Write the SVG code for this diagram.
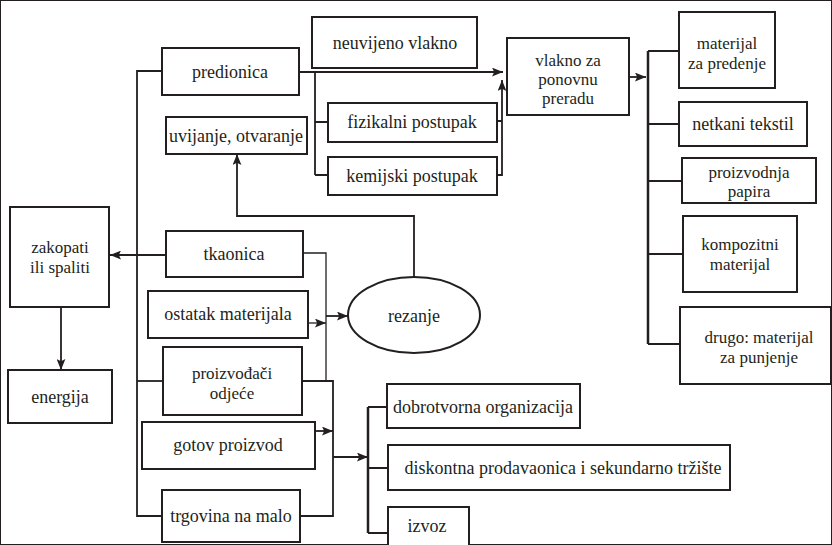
<svg xmlns="http://www.w3.org/2000/svg" width="832" height="545" viewBox="0 0 832 545" font-family="'Liberation Serif', 'DejaVu Serif', serif">
<defs>
<marker id="ah" viewBox="0 0 10 8" refX="10" refY="4" markerWidth="11" markerHeight="9" markerUnits="userSpaceOnUse" orient="auto">
<path d="M0,0 L10,4 L0,8 L2,4 Z" fill="#231f20"/>
</marker>
<style>
rect, ellipse { fill: #fff; stroke: #231f20; stroke-width: 2; }
text { font-family: 'Liberation Serif', 'DejaVu Serif', serif; font-size: 18px; fill: #231f20; text-anchor: middle; dominant-baseline: central; }
text.ml { font-size: 17px; }
#connectors path { fill: none; stroke: #231f20; stroke-width: 1.8; }
#connectors .thin { stroke-width: 1.3; }
#connectors .thick { stroke-width: 2.5; }
</style>
</defs>
<rect x="0" y="0" width="832" height="545" fill="#fff" stroke="none"/>

<g id="connectors">
<path d="M299,72 H503" marker-end="url(#ah)"/>
<path d="M315,72 V175 M315,122 H328 M315,175 H328"/>
<path d="M497,121 H502 M497,175 H502 V80" marker-end="url(#ah)"/>
<path d="M162,71 H137 V516 H162"/>
<path d="M137,381 H163"/>
<path d="M166,255 H110" marker-end="url(#ah)"/>
<path d="M61,307 V370" marker-end="url(#ah)"/>
<path class="thin" d="M303,253 H326 V381"/>
<path class="thin" d="M308,323 H326" marker-end="url(#ah)"/>
<path d="M326,316 H348" marker-end="url(#ah)"/>
<path d="M414,277 V216 H237 V154" marker-end="url(#ah)"/>
<path d="M302,381 H333 V516 H300"/>
<path d="M315,431 H333" marker-end="url(#ah)"/>
<path d="M333,457 H368" marker-end="url(#ah)"/>
<path class="thick" d="M368,407 V533"/>
<path d="M368,407 H387 M368,468 H388 M368,533 H388"/>
<path d="M629,77 H646" marker-end="url(#ah)"/>
<path class="thick" d="M648,51 V344"/>
<path d="M648,51 H679 M648,124 H679 M648,181 H682 M648,254 H683 M648,344 H680"/>
</g>

<g id="predionica"><rect x="162" y="48" width="137" height="47"/><text x="230" y="72">predionica</text></g>
<g id="uvijanje"><rect x="166" y="117" width="141" height="37"/><text x="236" y="136">uvijanje, otvaranje</text></g>
<g id="neuvijeno"><rect x="312" y="17" width="165" height="51"/><text x="395" y="43">neuvijeno vlakno</text></g>
<g id="fizikalni"><rect x="328" y="103" width="169" height="39"/><text x="412" y="122">fizikalni postupak</text></g>
<g id="kemijski"><rect x="328" y="157" width="169" height="38"/><text x="412" y="176">kemijski postupak</text></g>
<g id="vlakno"><rect x="507" y="38" width="122" height="77"/><text class="ml" x="568" y="60">vlakno za</text><text class="ml" x="568" y="79">ponovnu</text><text class="ml" x="568" y="98">preradu</text></g>
<g id="predenje"><rect x="679" y="12" width="96" height="76"/><text class="ml" x="727" y="43">materijal</text><text class="ml" x="727" y="63">za predenje</text></g>
<g id="netkani"><rect x="679" y="102" width="128" height="44"/><text x="743" y="124">netkani tekstil</text></g>
<g id="papir"><rect x="682" y="158" width="134" height="45"/><text class="ml" x="749" y="172">proizvodnja</text><text class="ml" x="749" y="191">papira</text></g>
<g id="kompozitni"><rect x="683" y="216" width="114" height="76"/><text class="ml" x="740" y="244">kompozitni</text><text class="ml" x="740" y="264">materijal</text></g>
<g id="drugo"><rect x="680" y="307" width="151" height="77"/><text class="ml" x="759" y="337">drugo: materijal</text><text class="ml" x="759" y="357">za punjenje</text></g>
<g id="zakopati"><rect x="10" y="207" width="99" height="100"/><text class="ml" x="60" y="247">zakopati</text><text class="ml" x="60" y="267">ili spaliti</text></g>
<g id="energija"><rect x="8" y="370" width="104" height="53"/><text x="60" y="397">energija</text></g>
<g id="tkaonica"><rect x="166" y="231" width="137" height="46"/><text x="234" y="254">tkaonica</text></g>
<g id="ostatak"><rect x="148" y="291" width="160" height="47"/><text x="228" y="314">ostatak materijala</text></g>
<g id="rezanje"><ellipse cx="414" cy="315" rx="66" ry="38"/><text x="414" y="316">rezanje</text></g>
<g id="proizvodjaci"><rect x="163" y="347" width="139" height="68"/><text class="ml" x="232" y="373">proizvođači</text><text class="ml" x="232" y="393">odjeće</text></g>
<g id="gotov"><rect x="142" y="422" width="173" height="47"/><text x="228" y="445">gotov proizvod</text></g>
<g id="trgovina"><rect x="162" y="490" width="138" height="52"/><text x="231" y="516">trgovina na malo</text></g>
<g id="dobrotvorna"><rect x="387" y="384" width="193" height="44"/><text x="483" y="407">dobrotvorna organizacija</text></g>
<g id="diskontna"><rect x="388" y="445" width="342" height="45"/><text x="563" y="468">diskontna prodavaonica i sekundarno tržište</text></g>
<g id="izvoz"><rect x="388" y="507" width="81" height="45"/><text x="427" y="526">izvoz</text></g>
</svg>
